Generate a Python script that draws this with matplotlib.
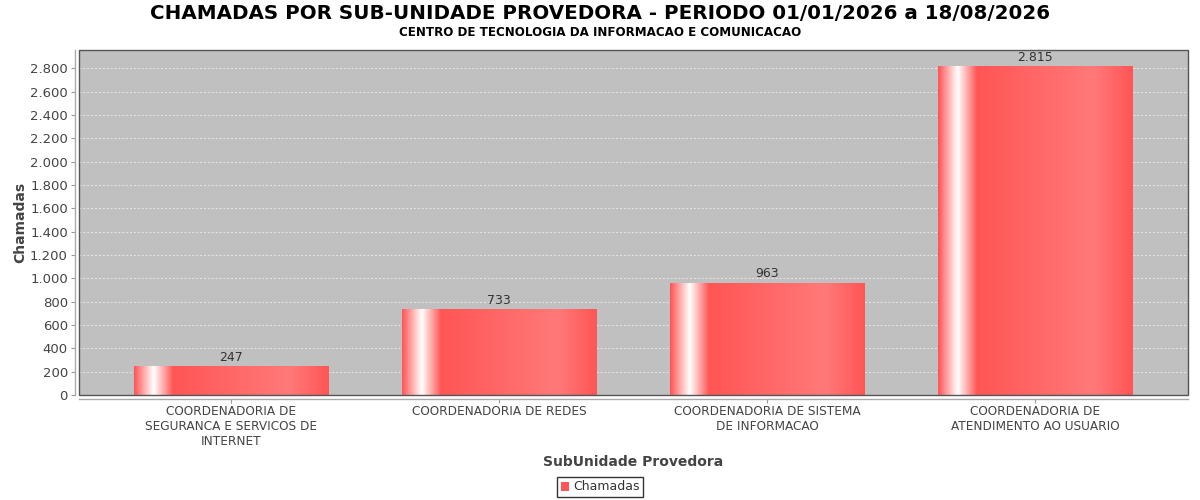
import numpy as np
import matplotlib
matplotlib.use('Agg')
import matplotlib.pyplot as plt
from matplotlib.patches import Rectangle
from matplotlib.ticker import FuncFormatter, MultipleLocator

# dados
categorias = ['COORDENADORIA DE\nSEGURANCA E SERVICOS DE\nINTERNET',
              'COORDENADORIA DE REDES',
              'COORDENADORIA DE SISTEMA\nDE INFORMACAO',
              'COORDENADORIA DE\nATENDIMENTO AO USUARIO']
chamadas = [247, 733, 963, 2815]

titulo = 'CHAMADAS POR SUB-UNIDADE PROVEDORA - PERIODO 01/01/2026 a 18/08/2026'
subtitulo = 'CENTRO DE TECNOLOGIA DA INFORMACAO E COMUNICACAO'

plt.rcParams['font.family'] = ['DejaVu Sans']

def milhar(v, pos=None):
    return '{:,.0f}'.format(v).replace(',', '.')

# gradiente estilo jfreechart
c0 = np.array([255, 85, 85]) / 255.0
c1 = np.array([255, 121, 121]) / 255.0
branco = np.array([1.0, 1.0, 1.0])
pos_g = [0.0, 0.10, 0.20, 0.80, 1.0]
cores_g = [c0, branco, c0, c1, c0]
t = np.linspace(0, 1, 300)
grad = np.stack([np.interp(t, pos_g, [c[k] for c in cores_g]) for k in range(3)], axis=1)
grad = grad[np.newaxis, :, :]

fig = plt.figure(figsize=(12, 5), dpi=100)
ax = fig.add_axes([0.0658, 0.21, 0.9242, 0.69])
ax.set_facecolor('#C0C0C0')

x = np.arange(len(categorias))
barras = ax.bar(x, chamadas, width=0.724, color='#FF5555', edgecolor='none',
                zorder=2, label='Chamadas')
for b in barras:
    x0, w, h = b.get_x(), b.get_width(), b.get_height()
    im = ax.imshow(grad, extent=[x0, x0 + w, 0, h], aspect='auto', zorder=3,
                   interpolation='bilinear')
    im.set_clip_path(b)
    ax.text(x0 + w / 2, h + 20, milhar(h), ha='center', va='bottom',
            fontsize=9, color='#333333', zorder=4)

ax.set_xlim(-0.567, 3.571)
ax.set_ylim(0, max(chamadas) * 1.05)
ax.yaxis.set_major_locator(MultipleLocator(200))
ax.yaxis.set_major_formatter(FuncFormatter(milhar))
ax.grid(axis='y', color='#E8E8E8', linestyle=(0, (2, 2)), linewidth=0.7, zorder=1)
ax.set_axisbelow(True)

ax.set_xticks(x)
ax.set_xticklabels(categorias, linespacing=1.08)
ax.tick_params(axis='y', labelsize=9.5, labelcolor='#444444', color='#999999',
               length=3, width=0.8, pad=2)
ax.tick_params(axis='x', labelsize=8.7, labelcolor='#444444', color='#999999',
               length=3, width=0.8, pad=1.5)

for s in ['top', 'right']:
    ax.spines[s].set_visible(False)
for s in ['left', 'bottom']:
    ax.spines[s].set_position(('outward', 3))
    ax.spines[s].set_color('#AAAAAA')
    ax.spines[s].set_linewidth(1)
ax.add_patch(Rectangle((0, 0), 1, 1, transform=ax.transAxes, fill=False,
                       edgecolor='#555555', linewidth=1, zorder=5, clip_on=False))

ax.set_ylabel('Chamadas', fontsize=10, fontweight='bold', color='#444444')
ax.yaxis.set_label_coords(-0.0532, 0.5)
ax.yaxis.label.set_va('center')
ax.set_xlabel('SubUnidade Provedora', fontsize=10, fontweight='bold', color='#444444')
ax.xaxis.set_label_coords(0.5, -0.194)
ax.xaxis.label.set_va('center')

fig.text(0.5, 0.973, titulo, ha='center', va='center', fontsize=14.35,
         fontweight='bold', color='black')
fig.text(0.5, 0.935, subtitulo, ha='center', va='center', fontsize=8.6,
         fontweight='bold', color='black')

leg = ax.legend(loc='center', bbox_to_anchor=(0.5, 0.026), bbox_transform=fig.transFigure,
                frameon=True, fancybox=False, fontsize=9, handlelength=0.7,
                handleheight=0.7, handletextpad=0.3, borderpad=0.3, borderaxespad=0)
leg.get_frame().set_edgecolor('black')
leg.get_frame().set_linewidth(1)
for txt in leg.get_texts():
    txt.set_color('#333333')

fig.savefig('out.png', dpi=100)
